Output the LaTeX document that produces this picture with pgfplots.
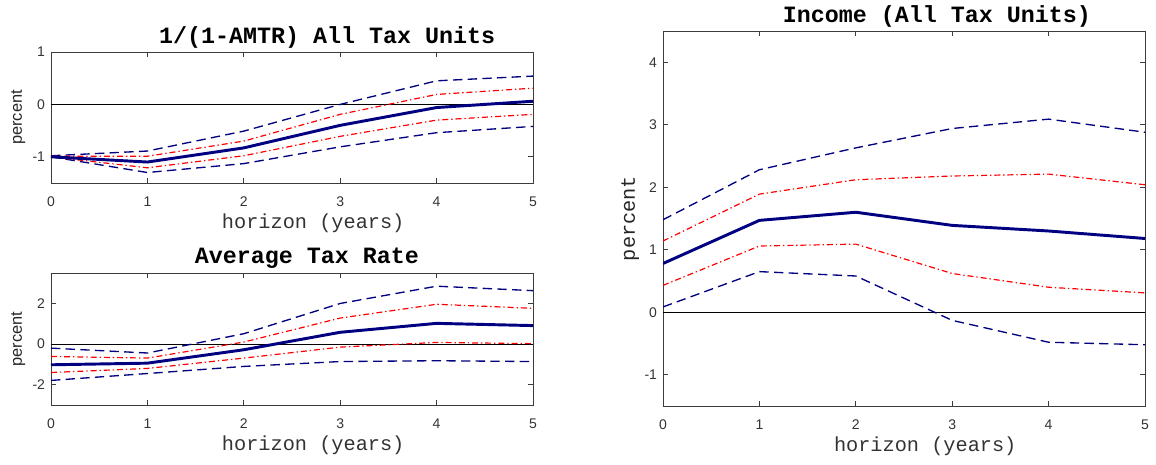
\documentclass[border=0pt]{standalone}
\usepackage{fontspec}
\setmainfont{Liberation Sans}
\newfontfamily\cour{Liberation Mono}
\usepackage{pgfplots}
\pgfplotsset{compat=1.18}
\definecolor{navy}{RGB}{0,0,128}
\definecolor{axgray}{RGB}{60,60,60}

\pgfplotsset{
  irf/.style={
    scale only axis, width=361.5pt,
    xmin=0, xmax=5, xtick={0,...,5},
    axis line style={axgray, line width=0.7pt},
    tick style={axgray, line width=0.6pt}, major tick length=3.5pt,
    tick label style={font=\fontsize{10.5}{12}\selectfont, text=black!80},
    xticklabel style={yshift=-7pt},
    yticklabel style={xshift=-1pt},
    /pgf/number format/assume math mode=true,
    title style={font=\cour\bfseries\fontsize{17.5}{18}\selectfont, anchor=center, yshift=5pt},
    xlabel={horizon (years)},
    xlabel style={font=\cour\fontsize{15.2}{16}\selectfont, text=black!80,
      at={(axis description cs:0.544,0)}, anchor=center, yshift=-30pt},
    ylabel={percent},
    ylabel style={at={(axis description cs:-0.068,0.5)}, anchor=center, text=black!85},
  },
  ci90/.style={navy, line width=1pt, dash pattern=on 7pt off 4pt},
  ci68/.style={red, line width=0.9pt, dash pattern=on 4.5pt off 2.2pt on 1pt off 2.2pt},
  est/.style={navy, line width=2.2pt},
  zero/.style={black, line width=0.6pt, forget plot},
}

\begin{document}
\begin{tikzpicture}
\useasboundingbox (0,0) rectangle (867pt,348pt);

% 1/(1-AMTR)
\begin{axis}[irf, at={(38.25pt,210.75pt)}, anchor=south west, height=98.25pt,
  ymin=-1.5, ymax=1, ytick={-1,0,1},
  title={1/(1-AMTR) All Tax Units}, title style={at={(axis description cs:0.573,1)}},
  ylabel style={font=\fontsize{12.3}{13}\selectfont}]
\addplot[zero] coordinates {(0,0) (5,0)};
\addplot[ci90] coordinates {(0,-0.98) (1,-0.89) (2,-0.51) (3,0.0) (4,0.45) (5,0.54)};
\addplot[ci90] coordinates {(0,-1.0) (1,-1.30) (2,-1.13) (3,-0.81) (4,-0.54) (5,-0.42)};
\addplot[ci68] coordinates {(0,-0.99) (1,-0.99) (2,-0.70) (3,-0.19) (4,0.19) (5,0.31)};
\addplot[ci68] coordinates {(0,-1.0) (1,-1.21) (2,-0.98) (3,-0.61) (4,-0.30) (5,-0.19)};
\addplot[est] coordinates {(0,-1.0) (1,-1.10) (2,-0.83) (3,-0.40) (4,-0.06) (5,0.06)};
\end{axis}

% Average tax rate
\begin{axis}[irf, at={(38.25pt,44.25pt)}, anchor=south west, height=99pt,
  ymin=-3, ymax=3.5, ytick={-2,0,2},
  title={Average Tax Rate}, title style={at={(axis description cs:0.531,1)}},
  ylabel style={font=\fontsize{12.3}{13}\selectfont}]
\addplot[zero] coordinates {(0,0) (5,0)};
\addplot[ci90] coordinates {(0,-0.20) (1,-0.44) (2,0.51) (3,2.00) (4,2.85) (5,2.63)};
\addplot[ci90] coordinates {(0,-1.79) (1,-1.45) (2,-1.10) (3,-0.86) (4,-0.82) (5,-0.86)};
\addplot[ci68] coordinates {(0,-0.61) (1,-0.69) (2,0.10) (3,1.28) (4,1.96) (5,1.76)};
\addplot[ci68] coordinates {(0,-1.40) (1,-1.20) (2,-0.69) (3,-0.15) (4,0.08) (5,0.02)};
\addplot[est] coordinates {(0,-1.02) (1,-0.94) (2,-0.28) (3,0.58) (4,1.02) (5,0.91)};
\end{axis}

% Income
\begin{axis}[irf, at={(497.25pt,43.5pt)}, anchor=south west, height=281.25pt,
  ymin=-1.5, ymax=4.5, ytick={-1,0,...,4},
  title={Income (All Tax Units)}, title style={at={(axis description cs:0.568,1)}},
  ylabel style={font=\cour\fontsize{15.2}{16}\selectfont}]
\addplot[zero] coordinates {(0,0) (5,0)};
\addplot[ci90] coordinates {(0,1.48) (1,2.28) (2,2.63) (3,2.94) (4,3.09) (5,2.88)};
\addplot[ci90] coordinates {(0,0.085) (1,0.65) (2,0.58) (3,-0.13) (4,-0.48) (5,-0.52)};
\addplot[ci68] coordinates {(0,1.14) (1,1.89) (2,2.12) (3,2.18) (4,2.21) (5,2.04)};
\addplot[ci68] coordinates {(0,0.43) (1,1.06) (2,1.09) (3,0.62) (4,0.40) (5,0.31)};
\addplot[est] coordinates {(0,0.78) (1,1.47) (2,1.60) (3,1.39) (4,1.30) (5,1.18)};
\end{axis}
\end{tikzpicture}
\end{document}
